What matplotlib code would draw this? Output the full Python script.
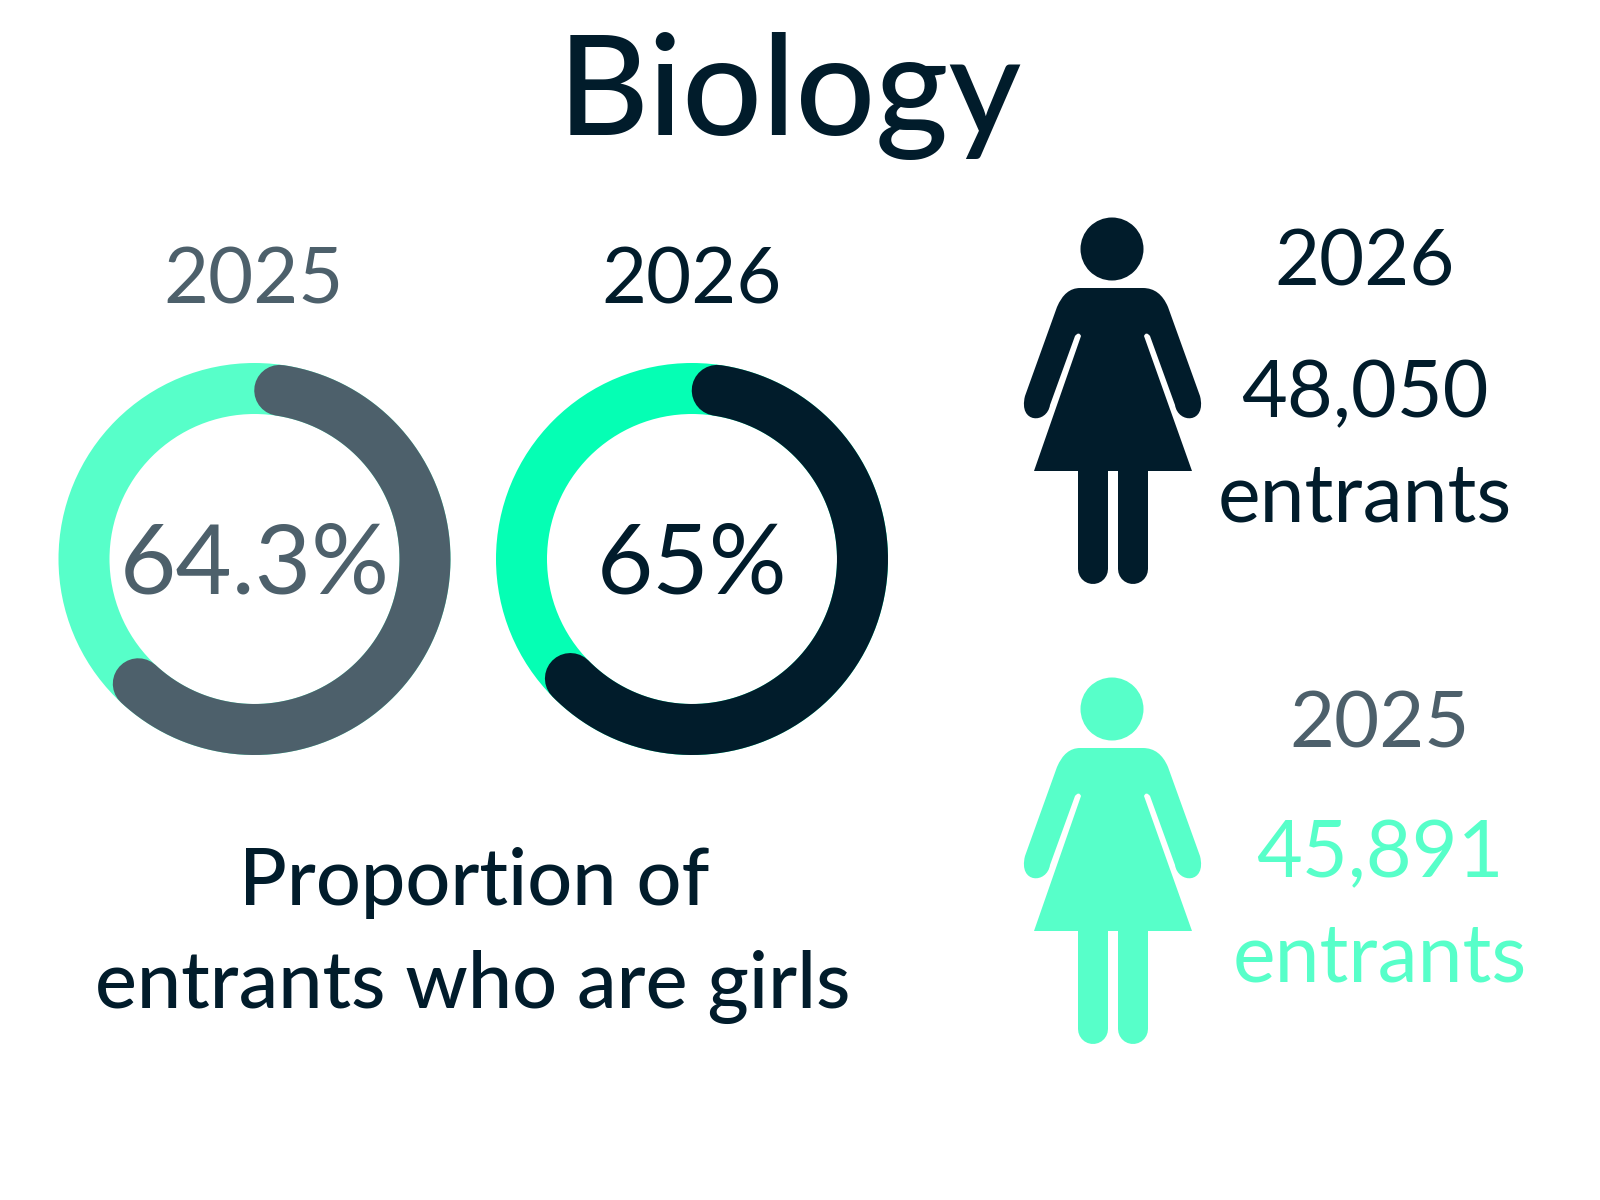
import numpy as np
import matplotlib
matplotlib.use("Agg")
import matplotlib.pyplot as plt
from matplotlib.patches import Circle, PathPatch
from matplotlib.path import Path

# Data
years = ["2025", "2026"]
girls_share = [64.3, 65]
share_labels = ["64.3%", "65%"]
entrants = ["45,891", "48,050"]

# Colours
DARK = "#011c2b"
GREY = "#4d606b"
MINT = "#57ffc9"
BRIGHT = "#05ffb4"

plt.rcParams['font.family'] = ['Lato', 'DejaVu Sans']

fig = plt.figure(figsize=(16, 12), dpi=100)
ax = fig.add_axes([0, 0, 1, 1])
ax.set_xlim(0, 1600)
ax.set_ylim(1200, 0)
ax.axis('off')

PX = 72 / 100  # points per pixel


def donut(cx, cy, value, ring_col, arc_col):
    r = 170.5
    w = 51
    ax.add_patch(Circle((cx, cy), r, fill=False, edgecolor=ring_col, lw=w * PX))
    # the round caps are part of the arc length
    cap = np.degrees(np.arctan((w / 2) / r))
    a = np.radians(np.linspace(cap, value * 3.6 - cap, 300))
    ax.plot(cx + r * np.sin(a), cy - r * np.cos(a), color=arc_col, lw=w * PX,
            solid_capstyle='round')


def person(dy, col):
    ax.add_patch(Circle((1112, 249 + dy), 31.5, color=col, lw=0))
    verts = [(1080, 288), (1143, 288),
             (1160, 288), (1168, 307),
             (1200, 396),
             (1207, 424), (1178, 424), (1175, 405),
             (1150, 336), (1146, 331), (1144, 336),
             (1192, 471), (1034, 471),
             (1081, 336), (1079, 331), (1075, 336),
             (1050, 405), (1047, 424), (1018, 424), (1025, 396),
             (1057, 307),
             (1065, 288), (1080, 288)]
    codes = [Path.MOVETO, Path.LINETO,
             Path.CURVE3, Path.CURVE3,
             Path.LINETO,
             Path.CURVE4, Path.CURVE4, Path.CURVE4,
             Path.LINETO, Path.CURVE3, Path.CURVE3,
             Path.LINETO, Path.LINETO,
             Path.LINETO, Path.CURVE3, Path.CURVE3,
             Path.LINETO, Path.CURVE4, Path.CURVE4, Path.CURVE4,
             Path.LINETO,
             Path.CURVE3, Path.CURVE3]
    verts = [(x, y + dy) for x, y in verts]
    ax.add_patch(PathPatch(Path(verts, codes), facecolor=col, edgecolor='none'))
    for x in (1092.5, 1133):
        ax.plot([x, x], [465 + dy, 569 + dy], color=col, lw=30 * PX,
                solid_capstyle='round')


# Title
ax.text(790, 135, "Biology", ha='center', va='baseline', fontsize=101, color=DARK,
        fontweight='medium')

# Doughnuts
donut(254.5, 559, girls_share[0], MINT, GREY)
donut(692, 559, girls_share[1], BRIGHT, DARK)
ax.text(254, 303, years[0], ha='center', va='baseline', fontsize=56, color=GREY)
ax.text(692, 303, years[1], ha='center', va='baseline', fontsize=56, color=DARK)
ax.text(255, 594, share_labels[0], ha='center', va='baseline', fontsize=70, color=GREY)
ax.text(692, 594, share_labels[1], ha='center', va='baseline', fontsize=70, color=DARK)

ax.text(474, 905, "Proportion of", ha='center', va='baseline', fontsize=57, color=DARK,
        fontweight='medium')
ax.text(473, 1008, "entrants who are girls", ha='center', va='baseline', fontsize=57, color=DARK,
        fontweight='medium')

# People
person(0, DARK)
person(460, MINT)

ax.text(1365, 286, years[1], ha='center', va='baseline', fontsize=56, color=DARK)
ax.text(1365, 417, entrants[1], ha='center', va='baseline', fontsize=57, color=DARK)
ax.text(1365, 522, "entrants", ha='center', va='baseline', fontsize=58, color=DARK)

ax.text(1380, 747, years[0], ha='center', va='baseline', fontsize=56, color=GREY)
ax.text(1380, 877, entrants[0], ha='center', va='baseline', fontsize=57, color=MINT)
ax.text(1380, 981, "entrants", ha='center', va='baseline', fontsize=58, color=MINT)

fig.savefig("out.png", dpi=100, facecolor='white')
